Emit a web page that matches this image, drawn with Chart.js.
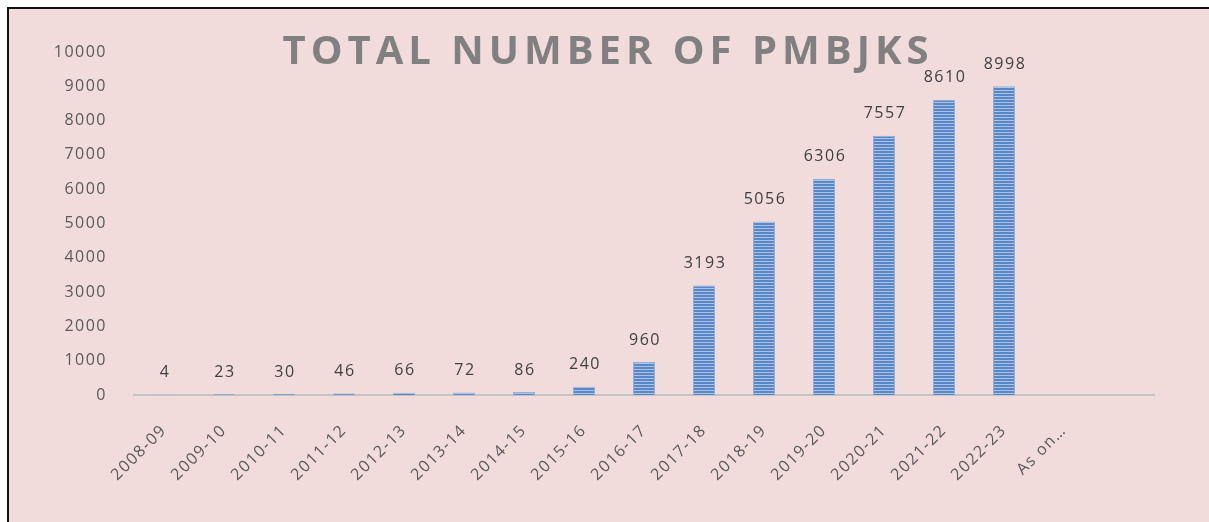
<!DOCTYPE html>
<html>
<head>
<meta charset="utf-8">
<script src="https://cdn.jsdelivr.net/npm/chart.js@4.4.1/dist/chart.umd.min.js"></script>
<style>
  html, body { margin: 0; padding: 0; background: #fff; }
  #frame {
    position: absolute; left: 7px; top: 7px;
    width: 1200px; height: 513px;
    border-left: 2px solid #111; border-top: 2px solid #111;
    background: #F2DCDB;
  }
  canvas { display: block; }
</style>
</head>
<body>
<div id="frame"><canvas id="chart" width="1200" height="513"></canvas></div>
<script>
const titleText = "TOTAL NUMBER OF PMBJKS";
const years = ["2008-09", "2009-10", "2010-11", "2011-12", "2012-13", "2013-14", "2014-15", "2015-16",
  "2016-17", "2017-18", "2018-19", "2019-20", "2020-21", "2021-22", "2022-23", "As on…", ""];
const kendras = [4, 23, 30, 46, 66, 72, 86, 240, 960, 3193, 5056, 6306, 7557, 8610, 8998, null, null];
const yTicks = [0, 1000, 2000, 3000, 4000, 5000, 6000, 7000, 8000, 9000, 10000];

// horizontal stripes like the excel fill
function stripes() {
  const c = document.createElement('canvas');
  c.width = 4; c.height = 3;
  const g = c.getContext('2d');
  g.fillStyle = '#5A88C6';
  g.fillRect(0, 0, 4, 3);
  g.fillStyle = '#A9C3E6';
  g.fillRect(0, 0, 4, 1);
  return g.createPattern(c, 'repeat');
}

// slightly spaced text everywhere, the source font runs wide
const spacing = {
  id: 'spacing',
  beforeDraw(chart) { chart.ctx.letterSpacing = '1.5px'; }
};

const titlePlugin = {
  id: 'bigTitle',
  afterDraw(chart) {
    const ctx = chart.ctx;
    ctx.save();
    ctx.font = 'bold 40px "Open Sans"';
    ctx.letterSpacing = '5px';
    ctx.fillStyle = '#808080';
    ctx.textAlign = 'center';
    ctx.textBaseline = 'alphabetic';
    ctx.fillText(titleText, 599, 55);
    ctx.restore();
  }
};

const valueLabels = {
  id: 'valueLabels',
  afterDatasetsDraw(chart) {
    const ctx = chart.ctx;
    const meta = chart.getDatasetMeta(0);
    ctx.save();
    ctx.font = '16px "Open Sans"';
    ctx.letterSpacing = '1.5px';
    ctx.fillStyle = '#404040';
    ctx.textAlign = 'center';
    ctx.textBaseline = 'middle';
    meta.data.forEach((bar, i) => {
      const v = kendras[i];
      if (v == null) return;
      ctx.fillText(String(v), bar.x + 1, bar.y - 22);
    });
    ctx.restore();
  }
};

new Chart(document.getElementById('chart'), {
  type: 'bar',
  data: {
    labels: years,
    datasets: [{
      label: 'PMBJKs',
      data: kendras,
      backgroundColor: stripes(),
      borderColor: '#8DB0DC',
      borderWidth: 1,
      barPercentage: 0.367,
      categoryPercentage: 1.0
    }]
  },
  options: {
    responsive: false,
    animation: false,
    layout: { padding: { top: 43, right: 55, left: 0, bottom: 0 } },
    plugins: {
      legend: { display: false },
      tooltip: { enabled: false }
    },
    scales: {
      x: {
        grid: { display: false },
        border: { color: '#C4C4C4', width: 2 },
        ticks: {
          color: '#595959',
          font: { family: '"Open Sans"', size: 16 },
          minRotation: 45,
          maxRotation: 45,
          padding: 18,
          autoSkip: false
        },
        afterFit(scale) { scale.height = 127; }
      },
      y: {
        min: 0,
        max: 10000,
        afterBuildTicks(scale) { scale.ticks = yTicks.map(v => ({ value: v })); },
        grid: { display: false, drawTicks: false },
        border: { display: false },
        ticks: {
          color: '#595959',
          font: { family: '"Open Sans"', size: 16 },
          padding: 27,
          callback: v => String(v)
        },
        afterFit(scale) { scale.width = 125; }
      }
    }
  },
  plugins: [spacing, titlePlugin, valueLabels]
});
</script>
</body>
</html>
